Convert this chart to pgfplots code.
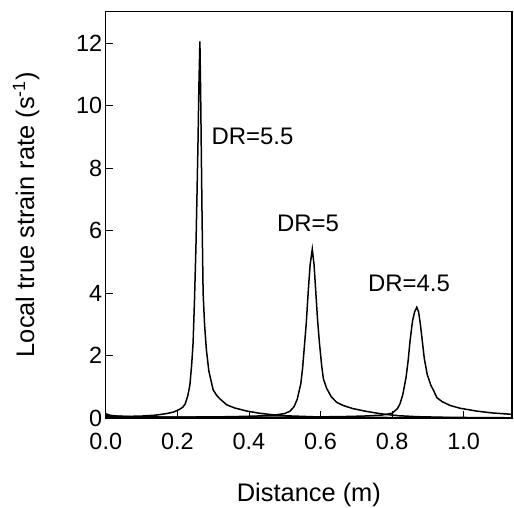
\documentclass[border=0pt]{standalone}
\usepackage{fontspec}
\setmainfont{Liberation Sans}
\usepackage{pgfplots}
\pgfplotsset{compat=1.18}

\begin{document}
\begin{tikzpicture}
\begin{axis}[
    name=ax,
    scale only axis,
    width=406bp, height=406bp,
    xmin=0, xmax=1.135,
    ymin=0, ymax=13,
    xtick={0,0.2,0.4,0.6,0.8,1.0},
    ytick={0,2,4,6,8,10,12},
    xtick pos=bottom, ytick pos=left,
    tick align=inside,
    major tick length=7bp,
    every tick/.style={black, line width=0.8bp},
    axis line style={line width=1.2bp},
    /pgf/number format/assume math mode=true,
    tick label style={font=\fontsize{23.5}{28}\selectfont},
    label style={font=\fontsize{25.5}{30}\selectfont},
    xticklabel style={/pgf/number format/fixed, /pgf/number format/fixed zerofill,
        /pgf/number format/precision=1, yshift=-12bp},
    xlabel={Distance (m)},
    ylabel={Local true strain rate (s\textsuperscript{-1})},
    xlabel style={at={(axis description cs:0.5,-0.19)}, anchor=center},
    ylabel style={at={(axis description cs:-0.196,0.5)}, anchor=center},
]
% DR = 5.5
\addplot[black, line width=1.5bp] coordinates {
    (0.000,0.14) (0.010,0.09) (0.030,0.06) (0.060,0.05) (0.100,0.06)
    (0.140,0.09) (0.170,0.14) (0.190,0.19) (0.205,0.27) (0.215,0.34)
    (0.222,0.45) (0.229,0.70) (0.235,1.05) (0.240,1.70) (0.244,2.40)
    (0.248,3.80) (0.252,5.50) (0.255,7.20) (0.258,9.00) (0.260,10.5)
    (0.263,12.05) (0.265,10.5) (0.267,8.50) (0.269,6.50) (0.272,4.00)
    (0.276,3.00) (0.281,2.20) (0.288,1.50) (0.296,1.10) (0.300,0.90)
    (0.310,0.72) (0.320,0.60) (0.338,0.42) (0.360,0.32) (0.394,0.22)
    (0.430,0.15) (0.468,0.10) (0.500,0.07) (0.550,0.05) (0.600,0.03)
    (0.700,0.02) (0.850,0.01) (1.000,0.005) (1.135,0.003)
};
% DR = 5
\addplot[black, line width=1.5bp] coordinates {
    (0.000,0.08) (0.050,0.04) (0.150,0.03) (0.250,0.03) (0.350,0.04)
    (0.420,0.06) (0.470,0.09) (0.500,0.14) (0.515,0.22) (0.526,0.36)
    (0.535,0.60) (0.545,1.10) (0.550,1.60) (0.555,2.30) (0.560,3.00)
    (0.566,4.10) (0.571,4.90) (0.577,5.40) (0.582,4.90) (0.587,4.00)
    (0.592,3.10) (0.597,2.40) (0.603,1.70) (0.608,1.25) (0.617,0.95)
    (0.630,0.68) (0.645,0.50) (0.663,0.40) (0.690,0.30) (0.728,0.21)
    (0.760,0.15) (0.784,0.11) (0.820,0.07) (0.870,0.04) (0.950,0.02)
    (1.050,0.01) (1.135,0.005)
};
% DR = 4.5
\addplot[black, line width=1.5bp] coordinates {
    (0.000,0.05) (0.100,0.03) (0.300,0.02) (0.500,0.03) (0.650,0.04)
    (0.720,0.06) (0.770,0.09) (0.800,0.15) (0.815,0.30) (0.822,0.45)
    (0.830,0.75) (0.839,1.30) (0.845,1.85) (0.850,2.45) (0.857,3.10)
    (0.863,3.40) (0.869,3.54) (0.874,3.40) (0.879,3.00) (0.884,2.50)
    (0.890,1.90) (0.898,1.40) (0.908,1.05) (0.915,0.90) (0.925,0.65)
    (0.940,0.52) (0.962,0.40) (0.990,0.31) (1.036,0.22) (1.080,0.16)
    (1.135,0.115)
};
\node[font=\fontsize{24}{28}\selectfont] at (axis cs:0.41,9.0) {DR=5.5};
\node[font=\fontsize{24}{28}\selectfont] at (axis cs:0.565,6.24) {DR=5};
\node[font=\fontsize{24}{28}\selectfont] at (axis cs:0.847,4.32) {DR=4.5};
\end{axis}
\pgfresetboundingbox
\path ([shift={(-105.7bp,-90bp)}]ax.south west) rectangle ([shift={(2bp,11.7bp)}]ax.north east);
\end{tikzpicture}
\end{document}
